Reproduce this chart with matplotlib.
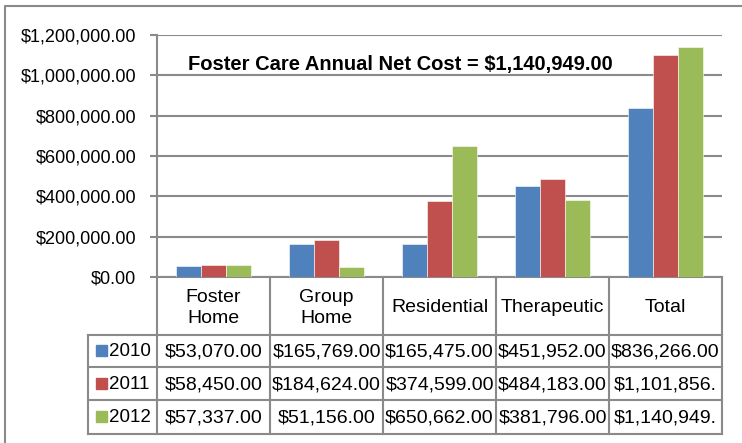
import matplotlib
matplotlib.use("Agg")
import matplotlib.pyplot as plt
from matplotlib.patches import Rectangle
from matplotlib.ticker import FuncFormatter

categories = ["Foster\nHome", "Group\nHome", "Residential", "Therapeutic", "Total"]
years = ["2010", "2011", "2012"]
v2010 = [53070.00, 165769.00, 165475.00, 451952.00, 836266.00]
v2011 = [58450.00, 184624.00, 374599.00, 484183.00, 1101856.00]
v2012 = [57337.00, 51156.00, 650662.00, 381796.00, 1140949.00]
series = [v2010, v2011, v2012]
colors = ["#4F81BD", "#C0504D", "#9BBB59"]
title = "Foster Care Annual Net Cost = $1,140,949.00"
yticks = [0, 200000, 400000, 600000, 800000, 1000000, 1200000]

plt.rcParams['font.family'] = ['Liberation Sans', 'DejaVu Sans']
GRID = "#8a8a8a"
W, H = 742, 443
fig = plt.figure(figsize=(W / 100, H / 100), dpi=100)

# pixel layout
L, R, T, B = 157, 722, 35, 277
ax = fig.add_axes([L / W, 1 - B / H, (R - L) / W, (B - T) / H])
n = len(categories)
bw = 0.22
for i, (vals, c) in enumerate(zip(series, colors)):
    xs = [k + 0.5 + (i - 1) * bw for k in range(n)]
    ax.bar(xs, vals, width=bw, color=c, edgecolor="white", linewidth=0.4, zorder=3)
ax.set_xlim(0, n)
ax.set_ylim(0, 1200000)
ax.set_yticks(yticks)
ax.yaxis.set_major_formatter(FuncFormatter(lambda v, p: "${:,.2f}".format(v)))
ax.set_xticks([])
ax.grid(axis="y", color=GRID, linewidth=1.5, zorder=0)
ax.tick_params(axis="y", length=5, width=1.5, color=GRID, labelsize=13, pad=10)
for s in ["top", "right"]:
    ax.spines[s].set_visible(False)
for s in ["left", "bottom"]:
    ax.spines[s].set_color(GRID)
    ax.spines[s].set_linewidth(1.5)
ax.text(0.43, 0.88, title, transform=ax.transAxes, ha="center", va="center",
        fontsize=14.5, fontweight="bold")

# overlay axes in pixel coordinates for table and frame
ov2 = fig.add_axes([0, 0, 1, 1])
ov2.set_xlim(0, W)
ov2.set_ylim(H, 0)
ov2.axis("off")
ov2.patch.set_alpha(0)

# frame
ov2.plot([5, 5, W + 5], [H + 5, 6, 6], color=GRID, lw=1.5)

colw = (R - L) / n
xb = [L + k * colw for k in range(n + 1)]
yb = [B, 335, 367, 400, 434]
lab_left = 88
lw = 1.5
for x in xb:
    ov2.plot([x, x], [B, yb[-1]], color=GRID, lw=lw, solid_capstyle="projecting")
for y in yb[1:]:
    ov2.plot([lab_left, R], [y, y], color=GRID, lw=lw, solid_capstyle="projecting")
ov2.plot([lab_left, lab_left], [yb[1], yb[-1]], color=GRID, lw=lw, solid_capstyle="projecting")

fs = 14
for k, c in enumerate(categories):
    ov2.text((xb[k] + xb[k + 1]) / 2, (yb[0] + yb[1]) / 2 + 2, c, ha="center", va="center",
             fontsize=fs, linespacing=1.25)

def fmt(v):
    s = "${:,.2f}".format(v)
    return s if len(s) <= 12 else s[:11]

for r, (yr, vals, c) in enumerate(zip(years, series, colors)):
    yc = (yb[r + 1] + yb[r + 2]) / 2
    ov2.add_patch(Rectangle((96, yc - 6), 11, 11, color=c))
    ov2.text(109, yc + 1, yr, ha="left", va="center", fontsize=13.5)
    for k, v in enumerate(vals):
        ov2.text((xb[k] + xb[k + 1]) / 2, yc + 1, fmt(v), ha="center", va="center", fontsize=fs)

fig.savefig("out.png", dpi=100)
